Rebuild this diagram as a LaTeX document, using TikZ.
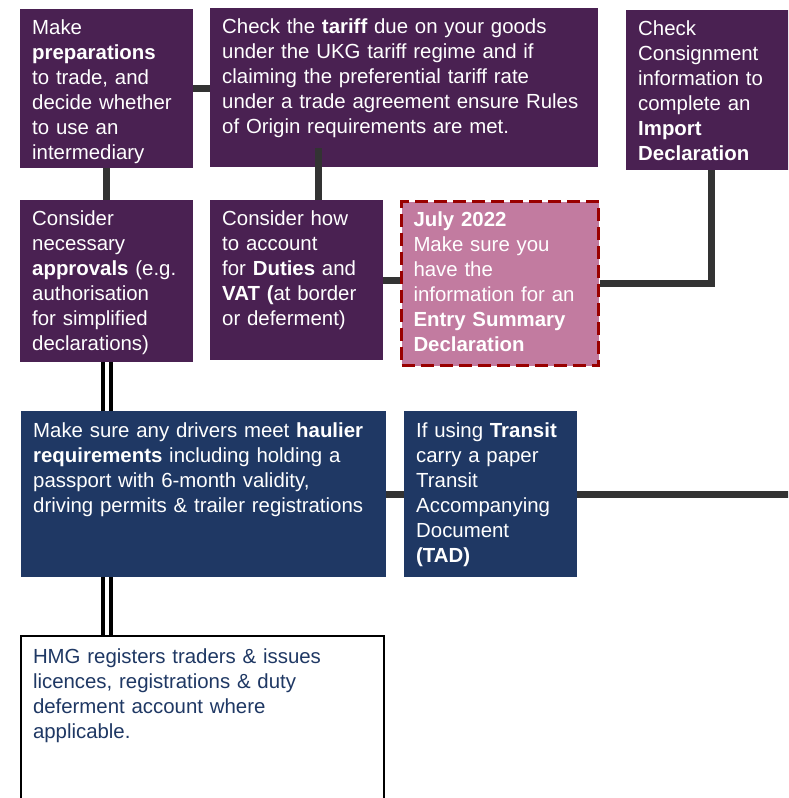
\documentclass[tikz,border=0pt]{standalone}
\usepackage{fontspec}
\setmainfont{Liberation Sans}
\definecolor{steppurple}{HTML}{4A2152}
\definecolor{stepblue}{HTML}{1F3864}
\definecolor{steppink}{HTML}{C27BA0}
\definecolor{stepred}{HTML}{990000}
\definecolor{linkgrey}{HTML}{333333}
\tikzset{
  stepbox/.style={rectangle, anchor=north west, align=left, inner xsep=12pt, inner ysep=0pt,
    text=white, font=\fontsize{20.4}{25}\selectfont, text height=25pt},
  purplebox/.style={stepbox, fill=steppurple},
  bluebox/.style={stepbox, fill=stepblue, text height=26.5pt},
  julybox/.style={stepbox, fill=steppink, draw=stepred, line width=3pt, dash pattern=on 13pt off 6pt},
  hmgbox/.style={stepbox, fill=white, draw=black, line width=2pt, text=stepblue, text height=27pt},
  link/.style={draw=linkgrey, line width=7pt},
  twinlink/.style={draw=black, line width=4pt, double=white, double distance=4pt}
}
\begin{document}
\begin{tikzpicture}[x=1pt, y=-1pt]
\clip (0,0) rectangle (788,798);
\fill[white] (0,0) rectangle (788,798);

% top row
\node[purplebox, text width=149pt, text depth=134pt] (prep) at (20,9)
  {Make\\\textbf{preparations}\\to trade, and\\decide whether\\to use an\\intermediary};
\node[purplebox, text width=364pt, text depth=134pt] (tariff) at (210,8)
  {Check the \textbf{tariff} due on your goods\\under the UKG tariff regime and if\\claiming the preferential tariff rate\\under a trade agreement ensure Rules\\of Origin requirements are met.};
\node[purplebox, text width=146pt, text depth=135pt] (cons) at (626,10)
  {Check\\Consignment\\information to\\complete an\\\textbf{Import}\\\textbf{Declaration}};

% second row
\node[purplebox, text width=149pt, text depth=137pt] (appr) at (20,200)
  {Consider\\necessary\\\textbf{approvals} (e.g.\\authorisation\\for simplified\\declarations)};
\node[purplebox, text width=149pt, text depth=135pt] (duties) at (210,200)
  {Consider how\\to account\\for \textbf{Duties} and\\\textbf{VAT (}at border\\or deferment)};
\node[julybox, text width=173pt, text depth=139pt] (july) at (400,200)
  {\textbf{July 2022}\\Make sure you\\have the\\information for an\\\textbf{Entry Summary}\\\textbf{Declaration}};

% third row
\node[bluebox, text width=341pt, text depth=139.5pt] (haul) at (21,411)
  {Make sure any drivers meet \textbf{haulier}\\\textbf{requirements} including holding a\\passport with 6-month validity,\\driving permits \& trailer registrations};
\node[bluebox, text width=149pt, text depth=139.5pt] (transit) at (404,411)
  {If using \textbf{Transit}\\carry a paper\\Transit\\Accompanying\\Document\\\textbf{(TAD)}};

% bottom
\node[hmgbox, text width=339pt, text depth=160pt] (hmg) at (20,635)
  {HMG registers traders \& issues\\licences, registrations \& duty\\deferment account where\\applicable.};

\coordinate (rightedge) at (800,494);

% connectors
\draw[link] (prep.east) -- (prep.east -| tariff.west);
\draw[link] (prep.south) -- (appr.north);
\draw[link] ([xshift=22pt]duties.north) -- ([xshift=22pt, yshift=19pt]duties.north |- tariff.south);
\draw[link] (duties.east) -- (duties.east -| july.west);
\draw[link] (july.east) -| (cons.south);
\draw[link] (haul.east) -- (haul.east -| transit.west);
\draw[link] (transit.east) -- (transit.east -| rightedge);
\draw[twinlink] (appr.south) -- (appr.south |- haul.north);
\draw[twinlink] (appr.south |- haul.south) -- (appr.south |- hmg.north);
\end{tikzpicture}
\end{document}
